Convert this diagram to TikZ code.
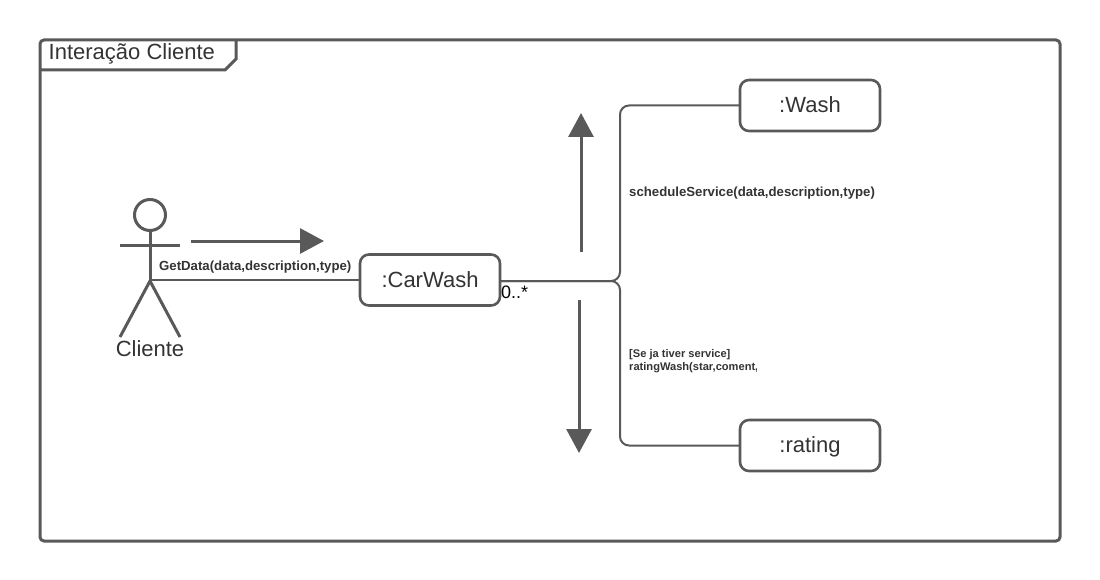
\documentclass[tikz,border=0pt]{standalone}
\usepackage{fontspec}
\setmainfont{Liberation Sans}
\usetikzlibrary{positioning,calc,arrows.meta}
\definecolor{umlline}{HTML}{595959}
\definecolor{umltext}{HTML}{333333}
\newcommand*{\fsize}[1]{\fontsize{#1}{#1}\selectfont}
\tikzset{
  obj/.style={draw=umlline,line width=2.6pt,rounded corners=9pt,minimum width=140pt,
    minimum height=51pt,inner sep=0pt,outer sep=0pt,text=umltext,font=\fsize{22},
    text height=14pt,text depth=0pt},
  conn/.style={draw=umlline,line width=2pt},
  flow/.style={draw=umlline,line width=3pt,-{Triangle[length=24pt,width=25pt,color=umlline]}},
  limb/.style={draw=umlline,line width=3pt},
  msg/.style={anchor=west,inner sep=0pt,text=umltext,font=\fsize{13.2}\bfseries},
  note/.style={anchor=west,inner sep=0pt,text=umltext,align=left,font=\fsize{11.1}\bfseries},
}
\begin{document}
\begin{tikzpicture}[x=1pt,y=-1pt]
\useasboundingbox (0,0) rectangle (1100,580);
% frame and its tab
\draw[limb,rounded corners=4pt] (40,40) rectangle (1060,541);
\draw[limb] (40,70) -- (225,70) -- (236,59) -- (236,40);
\node[anchor=west,inner sep=0pt,text=umltext,font=\fsize{22}] (title) at (48.5,54) {Interação Cliente};
% actor
\node[circle,draw=umlline,line width=3pt,minimum size=31pt,inner sep=0pt,outer sep=0pt] (head) at (150,215) {};
\coordinate (hip) at (150,281);
\coordinate (lfoot) at (120,337);
\coordinate (rfoot) at (180,337);
\coordinate (larm) at (120,245);
\coordinate (rarm) at (180,245);
\draw[limb] (head.south) -- (hip);
\draw[limb] (larm) -- (rarm);
\draw[limb] (lfoot) -- (hip) -- (rfoot);
\node[inner sep=0pt,text=umltext,font=\fsize{22}] (cliente) at (150,349) {Cliente};
% objects
\node[obj] (carwash) at (430,280) {:CarWash};
\node[obj] (wash) at (810,105.5) {:Wash};
\node[obj] (rating) at (810,445.5) {:rating};
% connectors
\coordinate (bus) at (620,281);
\draw[conn] (hip |- carwash.west) -- (carwash.west);
\draw[conn,rounded corners=9pt] (carwash.east |- bus) -- (bus) |- (wash.west);
\draw[conn,rounded corners=9pt] (carwash.east |- bus) -- (bus) |- (rating.west);
% direction arrows
\coordinate (a1s) at (191,241);
\coordinate (a1e) at (324,241);
\coordinate (a2s) at (581,252);
\coordinate (a2e) at (581,113);
\coordinate (a3s) at (579,300);
\coordinate (a3e) at (579,453);
\draw[flow] (a1s) -- (a1e);
\draw[flow] (a2s) -- (a2e);
\draw[flow] (a3s) -- (a3e);
% labels
\node[msg] (getdata) at (159,267) {GetData(data,description,type)};
\node[msg] (schedule) at (629,193) {scheduleService(data,description,type)};
\node[note] (guard) at (629,354.5) {[Se ja tiver service]};
\begin{scope}
\clip (625,359) rectangle (756,377);
\node[note] (ratingwash) at (629,367.5) {ratingWash(star,coment,};
\end{scope}
\node[anchor=west,inner sep=0pt,text=black,font=\fsize{18}] (mult) at (501,292.5) {0..*};
\end{tikzpicture}
\end{document}
